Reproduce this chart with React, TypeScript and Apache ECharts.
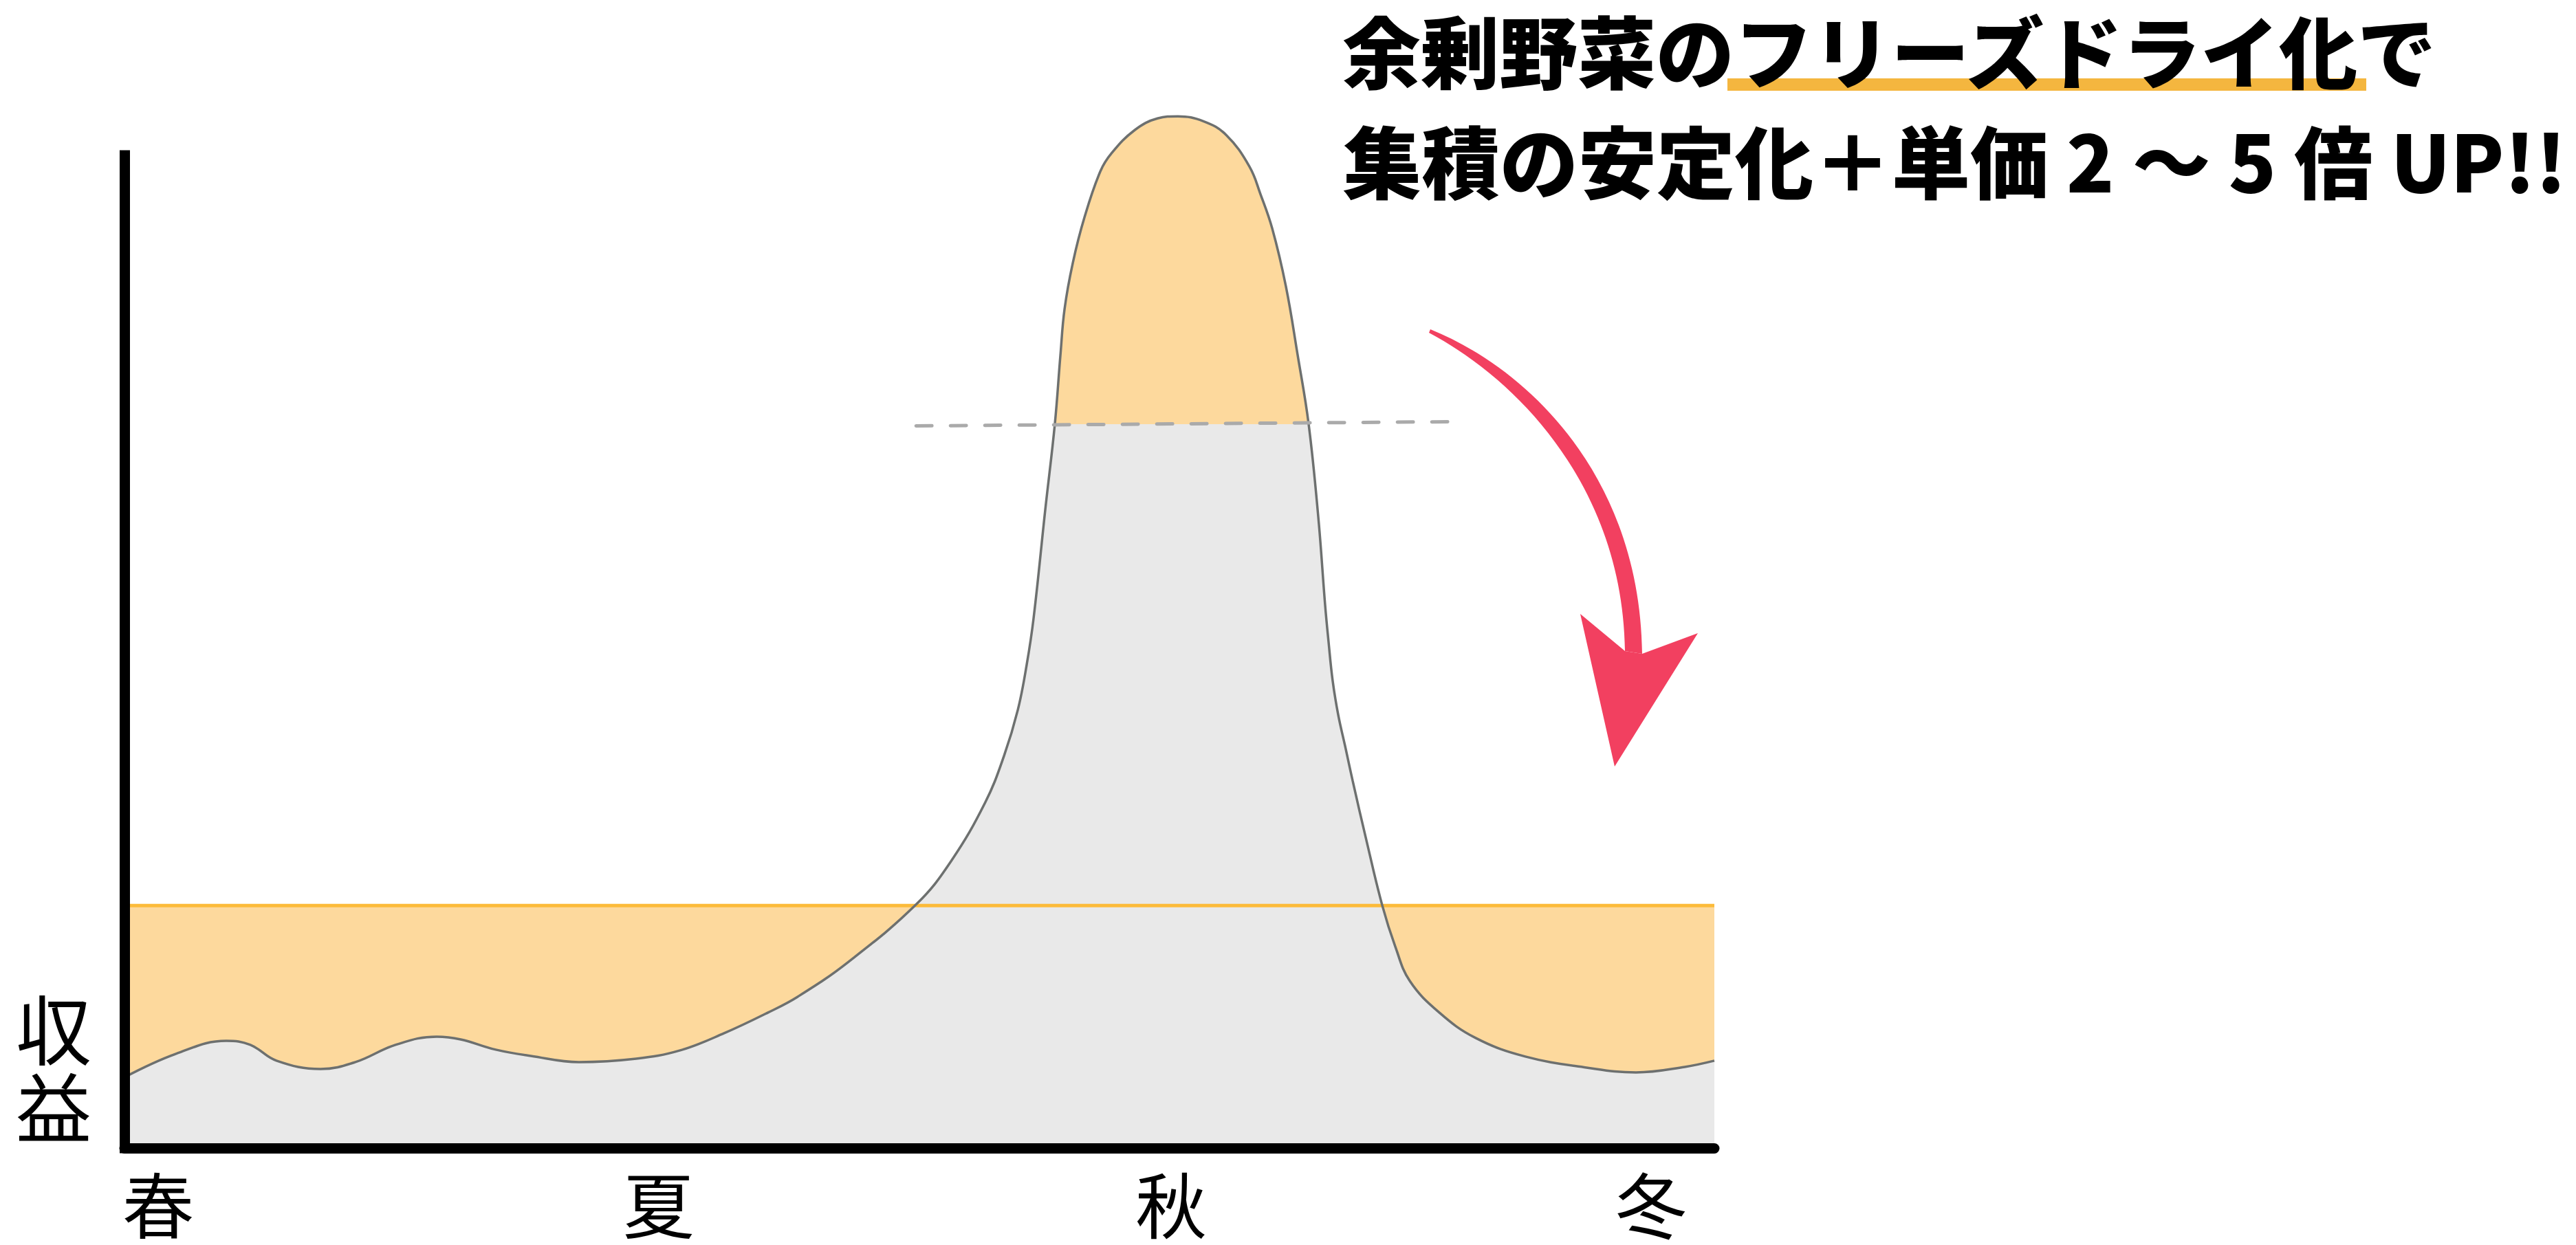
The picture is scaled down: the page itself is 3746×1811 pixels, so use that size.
import React, { useEffect, useRef } from 'react';
import * as echarts from 'echarts';

// Season tick labels and their positions on the time axis (0–100)
const seasonLabels = ['春', '夏', '秋', '冬'];
const seasonPositions = [2.12, 33.6, 65.83, 96.02];

// Revenue curve over the year (time position, revenue)
const revenueX = [
  0, 3.24, 6.4, 7.92, 9.56, 12.33, 14.53, 17.04, 19.64, 21.15, 23.36, 25.56, 28.59, 32.18, 34.95,
  37.72, 40.48, 42.34, 45.5, 49.83, 51.99, 54.15, 55.32, 56.19, 56.75, 57.18, 57.92, 58.52, 58.87,
  59.13, 59.65, 60.38, 61.38, 62.11, 63.54, 64.97, 66.26, 67.86, 69.29, 70.76, 71.45, 72.19, 73.05,
  73.79, 74.48, 75.09, 75.52, 75.73, 75.99, 76.34, 76.77, 77.25, 78.11, 79.11, 79.93, 80.84, 82.7,
  84.99, 88.11, 91.96, 95.07, 98.14, 100,
];
const revenueY = [
  7.09, 9.44, 10.74, 10.33, 8.75, 7.92, 8.61, 10.33, 11.16, 10.88, 9.85, 9.23, 8.61, 8.95, 9.78,
  11.5, 13.57, 15.15, 18.6, 24.45, 28.72, 34.64, 39.26, 43.87, 48.42, 53.03, 63.98, 72.52, 79.41,
  84.02, 88.64, 93.18, 97.8, 99.66, 101.93, 103.1, 103.31, 102.82, 101.45, 98.28, 95.52, 92.08, 86.29,
  79.41, 72.52, 63.15, 54.34, 50.76, 46.83, 43.39, 40.29, 36.78, 30.85, 24.31, 20.18, 16.74, 13.57,
  11.02, 9.16, 8.06, 7.58, 8.13, 8.75,
];

// Stable level after freeze-drying (orange band top)
const stableLevelX = [0, 100];
const stableLevelY = [24.28, 24.28];

// Previous harvest cap (dashed line)
const capLineX = [49.79, 83.44];
const capLineY = [72.31, 72.73];
const capThreshold = 72.5;

const axisMax = 99.4;

const titleLine1 = '余剰野菜のフリーズドライ化で';
const titleLine2 = '集積の安定化＋単価 2 ～ 5 倍 UP!!';
const yAxisTitle = '収\n益';

const GRAY_FILL = '#e9e9e9';
const ORANGE_FILL = '#fdd99d';
const ORANGE_LINE = '#fcbb3a';
const CURVE_LINE = '#6d706f';
const PINK = '#f24060';
const JP = '"Noto Sans CJK JP", "Noto Sans CJK SC", sans-serif';

export default function App() {
  const ref = useRef<HTMLDivElement>(null);

  useEffect(() => {
    document.body.style.margin = '0';
    const el = ref.current;
    if (!el) return;
    echarts.graphic.registerShape(
      'arrowShaft',
      echarts.graphic.extendPath(
        'M 2080 479 C 2230 540 2385 700 2388 951 L 2363 947 C 2360 720 2220 560 2078 484 Z',
        {}
      )
    );
    const chart = echarts.init(el, null, { renderer: 'svg' });

    const curveData = revenueX.map((x, i) => [x, revenueY[i]]);
    const levelData = stableLevelX.map((x, i) => [x, stableLevelY[i]]);
    const capData = capLineX.map((x, i) => [x, capLineY[i]]);

    const option: any = {
      animation: false,
      backgroundColor: '#ffffff',
      grid: { left: 181, right: 1253, top: 226, bottom: 141 },
      xAxis: {
        type: 'value',
        min: 0,
        max: 100,
        z: 10,
        axisLine: { show: true, onZero: true, lineStyle: { color: '#000', width: 15 } },
        axisTick: { show: false },
        splitLine: { show: false },
        axisLabel: {
          show: true,
          customValues: seasonPositions,
          formatter: (v: number) => {
            const idx = seasonPositions.findIndex((p) => Math.abs(p - v) < 1e-6);
            return idx >= 0 ? seasonLabels[idx] : '';
          },
          fontSize: 104,
          lineHeight: 104,
          fontFamily: JP,
          color: '#000',
          margin: 26,
        },
      },
      yAxis: {
        type: 'value',
        min: 0,
        max: axisMax,
        z: 10,
        axisLine: { show: true, lineStyle: { color: '#000', width: 15, cap: 'square' } },
        axisTick: { show: false },
        axisLabel: { show: false },
        splitLine: { show: false },
      },
      series: [
        {
          type: 'line',
          data: levelData,
          showSymbol: false,
          silent: true,
          lineStyle: { color: ORANGE_LINE, width: 5 },
          areaStyle: { color: ORANGE_FILL, opacity: 1 },
        },
        {
          type: 'line',
          data: curveData,
          smooth: 0.4,
          clip: false,
          showSymbol: false,
          silent: true,
          lineStyle: { color: CURVE_LINE, width: 3.5 },
          areaStyle: { color: GRAY_FILL, opacity: 1 },
        },
        {
          type: 'line',
          data: capData,
          showSymbol: false,
          silent: true,
          lineStyle: { color: '#aaaaaa', width: 5, type: [23, 27], cap: 'round' },
        },
      ],
      graphic: [
        {
          type: 'rect',
          z: 10,
          shape: { x: 2512, y: 114, width: 929, height: 18 },
          style: { fill: '#f4b63f' },
        },
        {
          type: 'text',
          z: 11,
          x: 1952,
          y: 70,
          style: {
            text: titleLine1,
            fontSize: 114,
            fontWeight: 900,
            fontFamily: JP,
            fill: '#000',
            align: 'left',
            verticalAlign: 'middle',
          },
        },
        {
          type: 'text',
          z: 11,
          x: 1953,
          y: 230,
          style: {
            text: titleLine2,
            fontSize: 114,
            fontWeight: 900,
            fontFamily: JP,
            fill: '#000',
            align: 'left',
            verticalAlign: 'middle',
          },
        },
        {
          type: 'text',
          z: 11,
          x: 78,
          y: 1549,
          style: {
            text: yAxisTitle,
            fontSize: 110,
            lineHeight: 113,
            fontFamily: JP,
            fill: '#000',
            align: 'center',
            verticalAlign: 'middle',
          },
        },
        {
          type: 'arrowShaft',
          z: 11,
          x: 0,
          y: 0,
          style: { fill: PINK },
        },
        {
          type: 'polygon',
          z: 11,
          shape: { points: [[2298, 893], [2363, 947], [2388, 951], [2469, 921], [2348, 1115]] },
          style: { fill: PINK },
        },
      ],
    };

    chart.setOption(option);

    // Colour the peak above the old harvest cap orange, below it gray
    const capPx = chart.convertToPixel({ xAxisIndex: 0, yAxisIndex: 0 }, [0, capThreshold]) as number[];
    if (capPx && isFinite(capPx[1])) {
      const yCap = capPx[1];
      const gradient = new echarts.graphic.LinearGradient(
        0,
        yCap - 1,
        0,
        yCap + 1,
        [
          { offset: 0, color: ORANGE_FILL },
          { offset: 0.5, color: ORANGE_FILL },
          { offset: 0.5, color: GRAY_FILL },
          { offset: 1, color: GRAY_FILL },
        ],
        true
      );
      chart.setOption({ series: [{}, { areaStyle: { color: gradient, opacity: 1 } }, {}] });
    }

    return () => {
      chart.dispose();
    };
  }, []);

  return (
    <div
      ref={ref}
      style={{ position: 'absolute', left: 0, top: 0, width: 3746, height: 1811 }}
    />
  );
}
